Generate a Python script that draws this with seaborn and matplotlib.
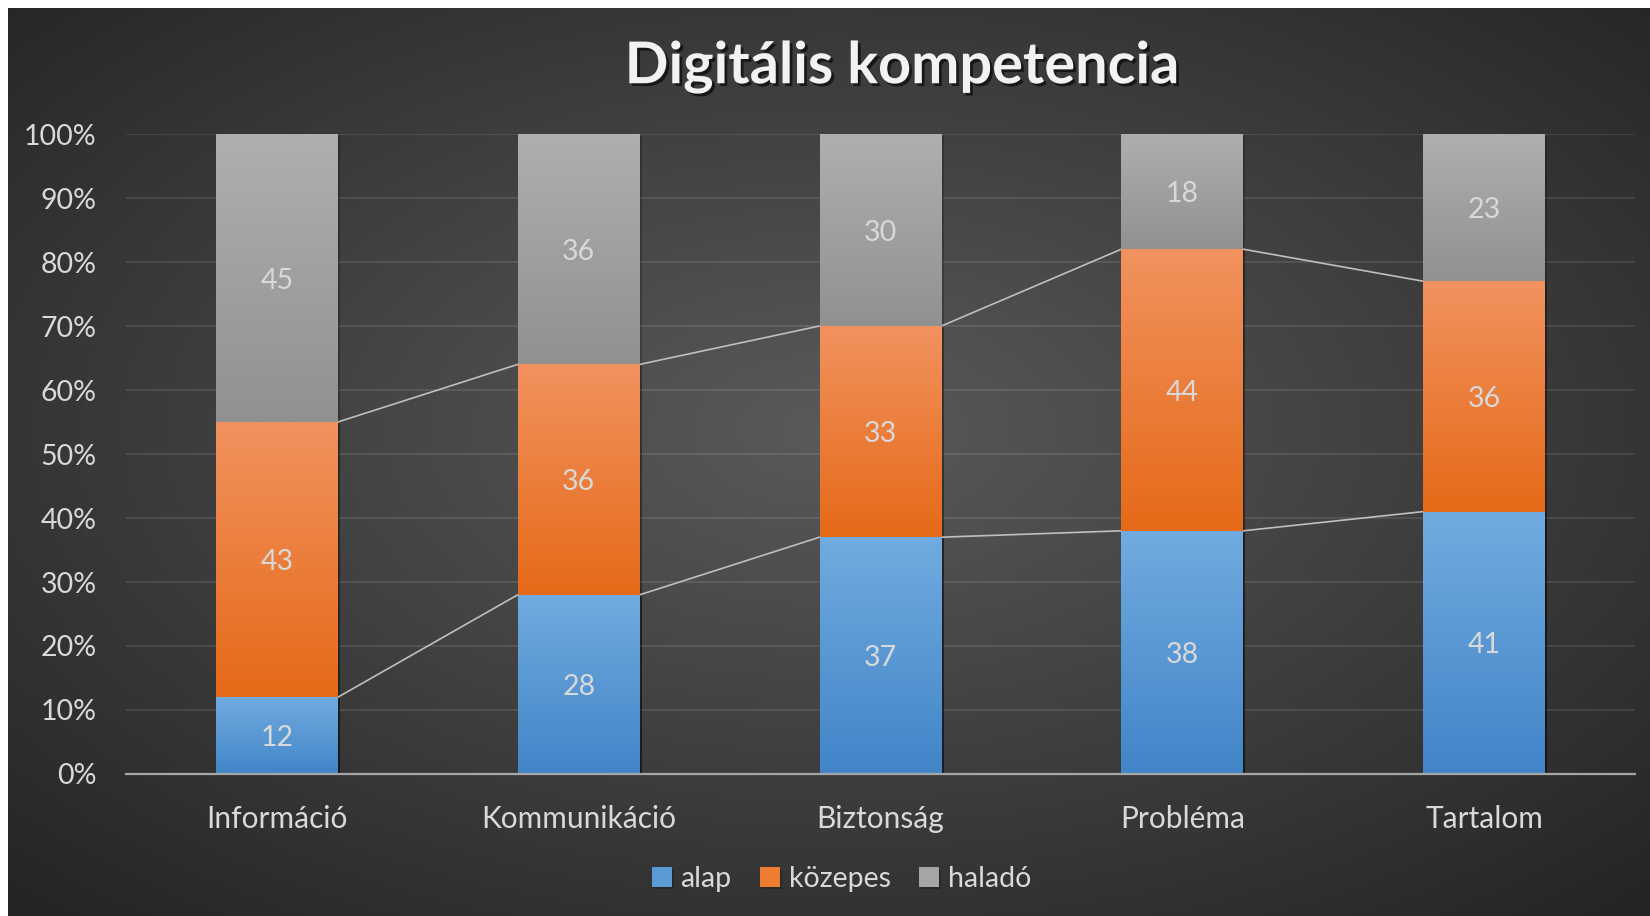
import numpy as np
import pandas as pd
import matplotlib
matplotlib.use("Agg")
import matplotlib.pyplot as plt
import matplotlib.patheffects as pe
from matplotlib.colors import LinearSegmentedColormap, to_rgb
import seaborn as sns

# data
categories = ["Információ", "Kommunikáció", "Biztonság", "Probléma", "Tartalom"]
alap = [12, 28, 37, 38, 41]
kozepes = [43, 36, 33, 44, 36]
halado = [45, 36, 30, 18, 23]
series_names = ["alap", "közepes", "haladó"]
yticks = list(range(0, 101, 10))

FONT = ["Lato", "DejaVu Sans"]
TXT = "#D9D9D9"
# (top, bottom) colours of each segment's vertical gradient
grad_colors = {
    "alap": ("#71ABE0", "#4185C8"),
    "közepes": ("#F2925F", "#E56A18"),
    "haladó": ("#AFAFAF", "#919191"),
}
flat_colors = {"alap": "#5B9BD5", "közepes": "#ED7D31", "haladó": "#A5A5A5"}

df = pd.DataFrame({"kategoria": categories, "alap": alap,
                   "közepes": kozepes, "haladó": halado})
for i, name in enumerate(series_names):
    df["cum_" + name] = df[series_names[: i + 1]].sum(axis=1)

sns.set_theme(style="dark")
plt.rcParams["font.family"] = FONT

W, H = 1650, 916
fig = plt.figure(figsize=(W / 100, H / 100), dpi=100)
fig.patch.set_facecolor("white")

# radial background gradient
bg = fig.add_axes([8 / W, 0, 1 - 8 / W, 1 - 8 / H])
bg.axis("off")
yy, xx = np.mgrid[8:H, 8:W]
r = np.sqrt(((xx - 830) / (W / 2)) ** 2 + ((yy - 430) / (H / 2)) ** 2) / np.sqrt(2)
r = np.clip(r, 0, 1)[..., None]
c_in = np.array(to_rgb("#5A5A5A"))
c_out = np.array(to_rgb("#252525"))
bg.imshow(c_in * (1 - r) + c_out * r, extent=[0, 1, 0, 1], aspect="auto")
bg.set_xlim(0, 1)
bg.set_ylim(0, 1)

ax = fig.add_axes([126 / W, 1 - 774 / H, (1635 - 126) / W, (774 - 134) / H])
ax.patch.set_alpha(0)

# stacked bars: draw cumulative totals from the top series down
bars = {}
for name in reversed(series_names):
    n_before = len(ax.patches)
    sns.barplot(data=df, x="kategoria", y="cum_" + name, color=flat_colors[name],
                saturation=1, width=0.404, linewidth=0, ax=ax, label=name, zorder=2)
    bars[name] = ax.patches[n_before:]
if ax.get_legend() is not None:
    ax.get_legend().remove()

shadow = [pe.SimplePatchShadow(offset=(1.5, -1.5), shadow_rgbFace="black", alpha=0.22),
          pe.Normal()]
ramp = np.linspace(0, 1, 256).reshape(-1, 1)
for name in series_names:
    cmap = LinearSegmentedColormap.from_list(name, list(grad_colors[name]))
    for i, p in enumerate(bars[name]):
        top = df.loc[i, "cum_" + name]
        val = df.loc[i, name]
        x0, w = p.get_x(), p.get_width()
        p.set_path_effects(shadow)
        ax.imshow(ramp, extent=(x0, x0 + w, top - val, top), cmap=cmap,
                  aspect="auto", origin="upper", zorder=3)
        ax.text(x0 + w / 2, top - val / 2, str(val), ha="center",
                va="center_baseline", fontsize=20.5, color=TXT, zorder=5)

# series lines between neighbouring bars
for name in series_names[:-1]:
    ps = bars[name]
    for i in range(len(ps) - 1):
        ax.plot([ps[i].get_x() + ps[i].get_width(), ps[i + 1].get_x()],
                [df.loc[i, "cum_" + name], df.loc[i + 1, "cum_" + name]],
                color="#BFBFBF", lw=1.2, zorder=2.5)

ax.set_xlim(-0.5, len(categories) - 0.5)
ax.set_ylim(0, 100)
ax.set_yticks(yticks)
ax.set_yticklabels([f"{v}%" for v in yticks])
ax.set_xlabel("")
ax.set_ylabel("")
ax.yaxis.grid(True, color="white", alpha=0.1, lw=1.4)
ax.xaxis.grid(False)
ax.set_axisbelow(True)
for s in ["left", "right", "top"]:
    ax.spines[s].set_visible(False)
ax.spines["bottom"].set_color("#A6A6A6")
ax.spines["bottom"].set_linewidth(1.6)
ax.spines["bottom"].set_zorder(6)
ax.tick_params(axis="y", length=0, pad=21, labelsize=20.5, labelcolor=TXT)
ax.tick_params(axis="x", length=0, pad=22, labelsize=21.5, labelcolor=TXT)

fig.text(902 / W, 1 - 67 / H, "Digitális kompetencia", ha="center", va="center",
         fontsize=41.5, fontweight="bold", color="#F2F2F2",
         path_effects=[pe.SimplePatchShadow(offset=(2, -2), shadow_rgbFace="black",
                                            alpha=0.6), pe.Normal()])

handles, labels = ax.get_legend_handles_labels()
order = [labels.index(n) for n in series_names]
fig.legend([handles[k] for k in order], [labels[k] for k in order],
           loc="center", bbox_to_anchor=(0.51, 0.04), ncol=3, frameon=False,
           fontsize=20.5, labelcolor=TXT, handlelength=0.7, handleheight=0.7,
           handletextpad=0.3, columnspacing=1.0)

fig.savefig("out.png", dpi=100)
